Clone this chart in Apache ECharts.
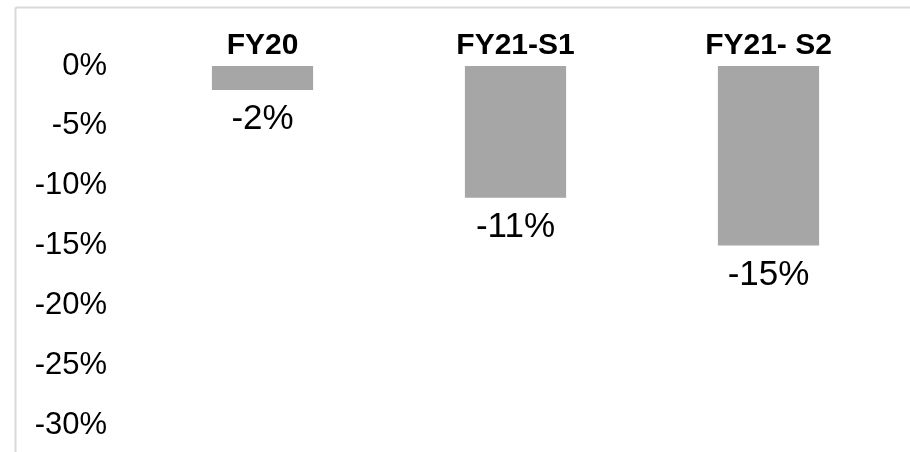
<!DOCTYPE html>
<html>
<head>
<meta charset="utf-8">
<script src="https://cdn.jsdelivr.net/npm/echarts@6/dist/echarts.min.js"></script>
<style>
html,body{margin:0;padding:0;background:#fff;}
#chart{width:910px;height:452px;}
</style>
</head>
<body>
<div id="chart"></div>
<script>
//数据
var categories = ['FY20', 'FY21-S1', 'FY21- S2'];
var values = [-2, -11, -15];
var yTicks = [0, -5, -10, -15, -20, -25, -30];

var myChart = echarts.init(document.getElementById('chart'));
var option = {
	animation: false,
	grid: {
		left: 136,
		right: 15,
		top: 66,
		bottom: 27
	},
	//外框
	graphic: [{
		type: 'line',
		shape: { x1: 15.5, y1: 7.5, x2: 910, y2: 7.5 },
		style: { stroke: '#d9d9d9', lineWidth: 2 }
	}, {
		type: 'line',
		shape: { x1: 15.5, y1: 7.5, x2: 15.5, y2: 452 },
		style: { stroke: '#d9d9d9', lineWidth: 2 }
	}],
	xAxis: {
		type: 'category',
		position: 'top',
		data: categories,
		axisLine: { show: false },
		axisTick: { show: false },
		axisLabel: {
			margin: 5,
			fontFamily: 'Liberation Sans',
			fontWeight: 'bold',
			fontSize: 30,
			color: '#000'
		}
	},
	yAxis: {
		type: 'value',
		min: yTicks[yTicks.length - 1],
		max: yTicks[0],
		interval: 5,
		axisLine: { show: false },
		axisTick: { show: false },
		splitLine: { show: false },
		axisLabel: {
			margin: 29,
			padding: [9, 0, 0, 0],
			fontFamily: 'Liberation Sans',
			fontSize: 31,
			color: '#000',
			formatter: function(v) {
				return v + '%';
			}
		}
	},
	series: [{
		type: 'bar',
		data: values,
		barWidth: '40%',
		itemStyle: { color: '#a6a6a6' },
		label: {
			show: true,
			position: 'bottom',
			distance: 12,
			fontFamily: 'Liberation Sans',
			fontSize: 35,
			color: '#000',
			formatter: function(p) {
				return p.value + '%';
			}
		}
	}]
};
myChart.setOption(option);
</script>
</body>
</html>
